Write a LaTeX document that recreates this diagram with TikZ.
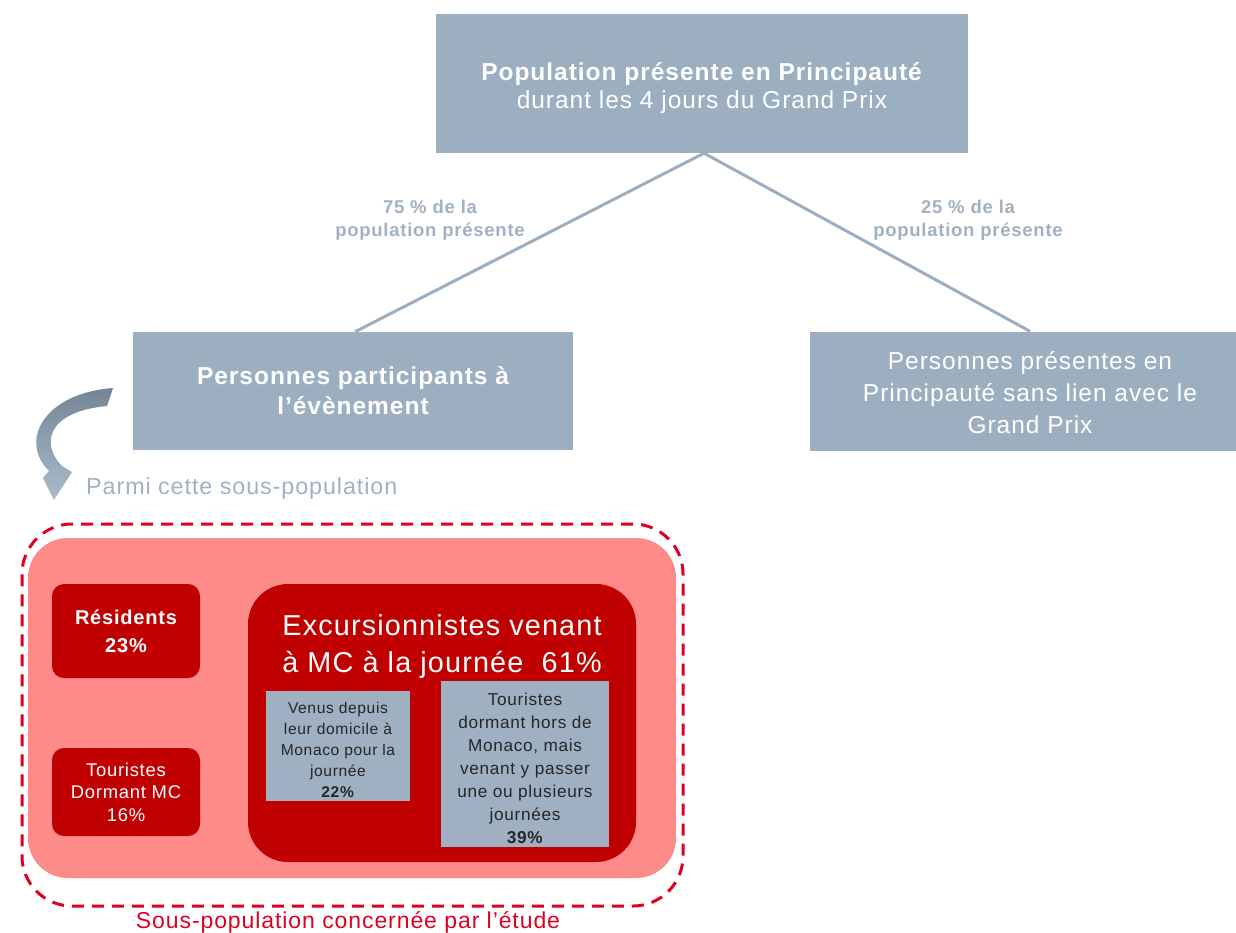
\documentclass[tikz,border=0pt]{standalone}
\usepackage{fontspec}
\setmainfont[LetterSpace=4]{Liberation Sans}
\definecolor{boxblue}{RGB}{155,175,193}
\definecolor{labblue}{RGB}{160,177,195}
\definecolor{pinkfill}{RGB}{255,138,138}
\definecolor{darkred}{RGB}{192,0,0}
\definecolor{dashred}{RGB}{222,0,32}
\definecolor{innergray}{RGB}{158,176,194}
\definecolor{arrowdark}{RGB}{116,134,148}
\definecolor{arrowlight}{RGB}{170,188,205}
\tikzset{
  bluebox/.style={fill=boxblue, text=white, inner sep=0pt, align=center},
  whitetext/.style={text=white, inner sep=0pt, align=center},
  redbox/.style={fill=darkred, text=white, inner sep=0pt, align=center, rounded corners=12pt},
  graybox/.style={fill=innergray, inner sep=0pt},
  graytext/.style={text=black!85, inner sep=0pt, align=center},
  link/.style={draw=boxblue, line width=3pt},
  pctlabel/.style={text=labblue, align=center, inner sep=0pt, font=\bfseries\fontsize{18.5}{23}\selectfont}
}
\begin{document}
\begin{tikzpicture}[x=1pt,y=-1pt]
\useasboundingbox (0,0) rectangle (1236,932);
% top box
\node[bluebox, minimum width=532pt, minimum height=139pt] (top) at (702,83.5) {};
\node[whitetext, font=\fontsize{24.5}{27.5}\selectfont] (toptext) at (702,88)
  {\textbf{Population présente en Principauté}\\durant les 4 jours du Grand Prix};
\node[bluebox, minimum width=440pt, minimum height=118pt, font=\bfseries\fontsize{24.5}{30}\selectfont] (left) at (353,391)
  {Personnes participants à\\l’évènement};
\node[bluebox, minimum width=440pt, minimum height=119pt] (right) at (1030,391) {};
\node[whitetext, font=\fontsize{24.5}{32}\selectfont] (righttext) at (1030,393)
  {Personnes présentes en\\Principauté sans lien avec le\\Grand Prix};
\draw[link] ([xshift=2pt]top.south) -- ([xshift=2pt]left.north);
\draw[link] ([xshift=2pt]top.south) -- (right.north);
\node[pctlabel] (l75) at (430,220) {75 \% de la\\population présente};
\node[pctlabel] (l25) at (968,220) {25 \% de la\\population présente};
% curved arrow
\shade[top color=arrowdark, bottom color=arrowlight]
  (113,388) .. controls (45,393) and (18,440) .. (49,471)
  -- (43,478) -- (54,500) -- (72,472) -- (62,466)
  .. controls (42,446) and (44,412) .. (107,406) -- cycle;
\node[anchor=west, text=labblue, inner sep=0pt, font=\fontsize{23.3}{26}\selectfont] (parmi) at (86,488) {Parmi cette sous-population};
% study frame
\node[draw=dashred, line width=3pt, dash pattern=on 12pt off 8pt, rounded corners=50pt, minimum width=661pt, minimum height=382pt, inner sep=0pt] (study) at (352.5,715) {};
\node[fill=pinkfill, rounded corners=40pt, minimum width=648pt, minimum height=340pt, inner sep=0pt] (pink) at (352,708) {};
\node[redbox, minimum width=148pt, minimum height=94pt, font=\bfseries\fontsize{20}{28}\selectfont] (res) at (126,631) {Résidents\\23\%};
\node[redbox, minimum width=148pt, minimum height=88pt, font=\fontsize{18.4}{22.5}\selectfont] (tmc) at (126,792) {Touristes\\Dormant MC\\16\%};
\node[redbox, rounded corners=40pt, minimum width=388pt, minimum height=278pt] (exc) at (442,723) {};
\node[whitetext, font=\fontsize{28.8}{37}\selectfont] (exctitle) at (442,647) {Excursionnistes venant\\à MC à la journée~~61\%};
\node[graybox, minimum width=144pt, minimum height=110pt] (g1) at (338,746) {};
\node[graytext, font=\fontsize{15.6}{21}\selectfont] (g1t) at (338,750)
  {Venus depuis\\leur domicile à\\Monaco pour la\\journée\\\textbf{22\%}};
\node[graybox, minimum width=168pt, minimum height=166pt] (g2) at (525,764) {};
\node[graytext, font=\fontsize{17.2}{23}\selectfont] (g2t) at (525,768)
  {Touristes\\dormant hors de\\Monaco, mais\\venant y passer\\une ou plusieurs\\journées\\\textbf{39\%}};
\node[text=dashred, inner sep=0pt, font=\fontsize{23}{24}\selectfont] (cap) at (348,922) {Sous-population concernée par l’étude};
\end{tikzpicture}
\end{document}
